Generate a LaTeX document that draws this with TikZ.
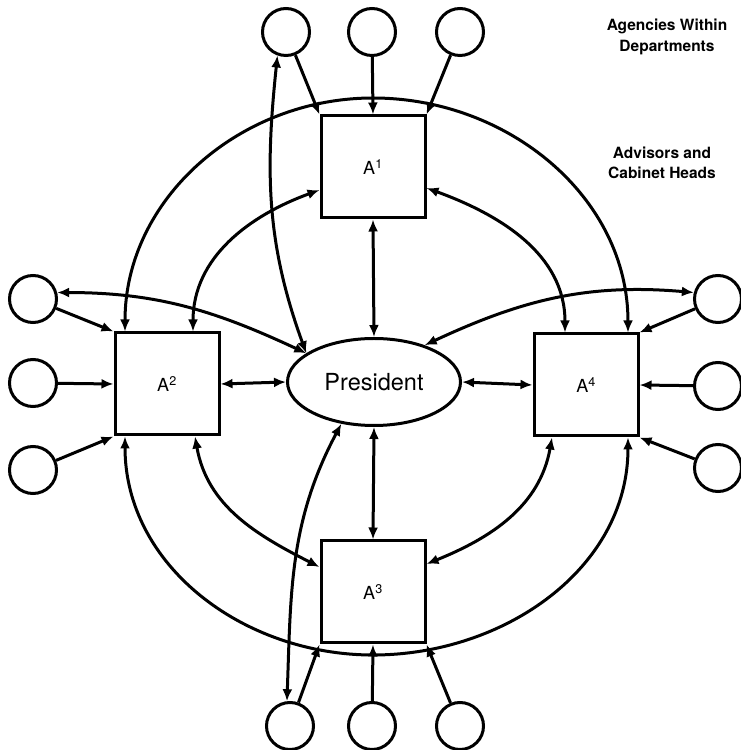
\documentclass[tikz,border=0pt]{standalone}
\usepackage{fontspec}
\setmainfont{TeX Gyre Heros}
\usetikzlibrary{arrows.meta,shapes.geometric}
\begin{document}
\begin{tikzpicture}[x=1pt,y=1pt, line width=3pt,
  >={Latex[length=12pt,width=10pt]},
  box/.style={draw, minimum width=104pt, minimum height=102pt, inner sep=0pt, font=\fontsize{18}{20}\selectfont},
  agency/.style={draw, circle, minimum size=47pt, inner sep=0pt},
  pres/.style={draw, ellipse, minimum width=173pt, minimum height=87pt, inner sep=0pt, font=\fontsize{23.5}{26}\selectfont},
  lbl/.style={align=center, font=\bfseries\fontsize{15.5}{20.5}\selectfont, inner sep=0pt}]
\useasboundingbox (0,0) rectangle (740,750);
% central nodes
\node[pres] (P) at (374,368) {President};
\node[box] (A1) at (373,583) {A\textsuperscript{1}};
\node[box] (A2) at (167,366) {A\textsuperscript{2}};
\node[box] (A3) at (373,158) {A\textsuperscript{3}};
\node[box] (A4) at (586,365) {A\textsuperscript{4}};
% agencies
\node[agency] (t1) at (286,718) {};
\node[agency] (t2) at (372,718) {};
\node[agency] (t3) at (460,718) {};
\node[agency] (l1) at (33,451) {};
\node[agency] (l2) at (33,367) {};
\node[agency] (l3) at (33,280) {};
\node[agency] (r1) at (718,451) {};
\node[agency] (r2) at (718,364) {};
\node[agency] (r3) at (718,282) {};
\node[agency] (b1) at (290,24) {};
\node[agency] (b2) at (372,24) {};
\node[agency] (b3) at (460,24) {};
% labels
\node[lbl] (agencies) at (667,713) {Agencies Within\\Departments};
\node[lbl] (advisors) at (662,587) {Advisors and\\Cabinet Heads};
% president - advisors
\draw[<->] (A1.south) -- (P.north);
\draw[<->] (A3.north) -- (P.south);
\draw[<->] (A2.east) -- (P.west);
\draw[<->] (P.east) -- (A4.west);
% agencies to advisors
\draw[->] (t1) -- (A1.north west);
\draw[->] (t2) -- (A1.north);
\draw[->] (t3) -- (A1.north east);
\draw[->] (l1) -- (A2.north west);
\draw[->] (l2) -- (A2.west);
\draw[->] (l3) -- (A2.south west);
\draw[->] (r1) -- (A4.north east);
\draw[->] (r2) -- (A4.east);
\draw[->] (r3) -- (A4.south east);
\draw[->] (b1) -- (A3.south west);
\draw[->] (b2) -- (A3.south);
\draw[->] (b3) -- (A3.south east);
% inner ring
\draw[<->] ([xshift=26pt]A2.north) to[out=90,in=200] ([yshift=-23pt]A1.west);
\draw[<->] ([yshift=-21pt]A1.east) to[out=-20,in=90] ([xshift=-21pt]A4.north);
\draw[<->] ([xshift=28pt]A2.south) to[out=-80,in=153] ([yshift=25pt]A3.west);
\draw[<->] ([xshift=-34pt]A4.south) to[out=-100,in=22] ([yshift=28pt]A3.east);
% outer ring
\coordinate (topapex) at (373,652);
\coordinate (botapex) at (373,95);
\draw[<->] ([xshift=-42pt]A2.north) to[out=90,in=180] (topapex) to[out=0,in=90] ([xshift=42pt]A4.north);
\draw[<->] ([xshift=-42pt]A2.south) to[out=-90,in=180] (botapex) to[out=0,in=-90] ([xshift=42pt]A4.south);
% president - agencies
\draw[<->] (t1.250) to[out=-96,in=110] (P.157);
\draw[<->] (l1.15) to[out=0,in=155] (P.157);
\draw[<->] (P.36) to[out=25,in=175] (r1.165);
\draw[<->] (P.232) to[out=-118,in=88] (b1.97);
\end{tikzpicture}
\end{document}
